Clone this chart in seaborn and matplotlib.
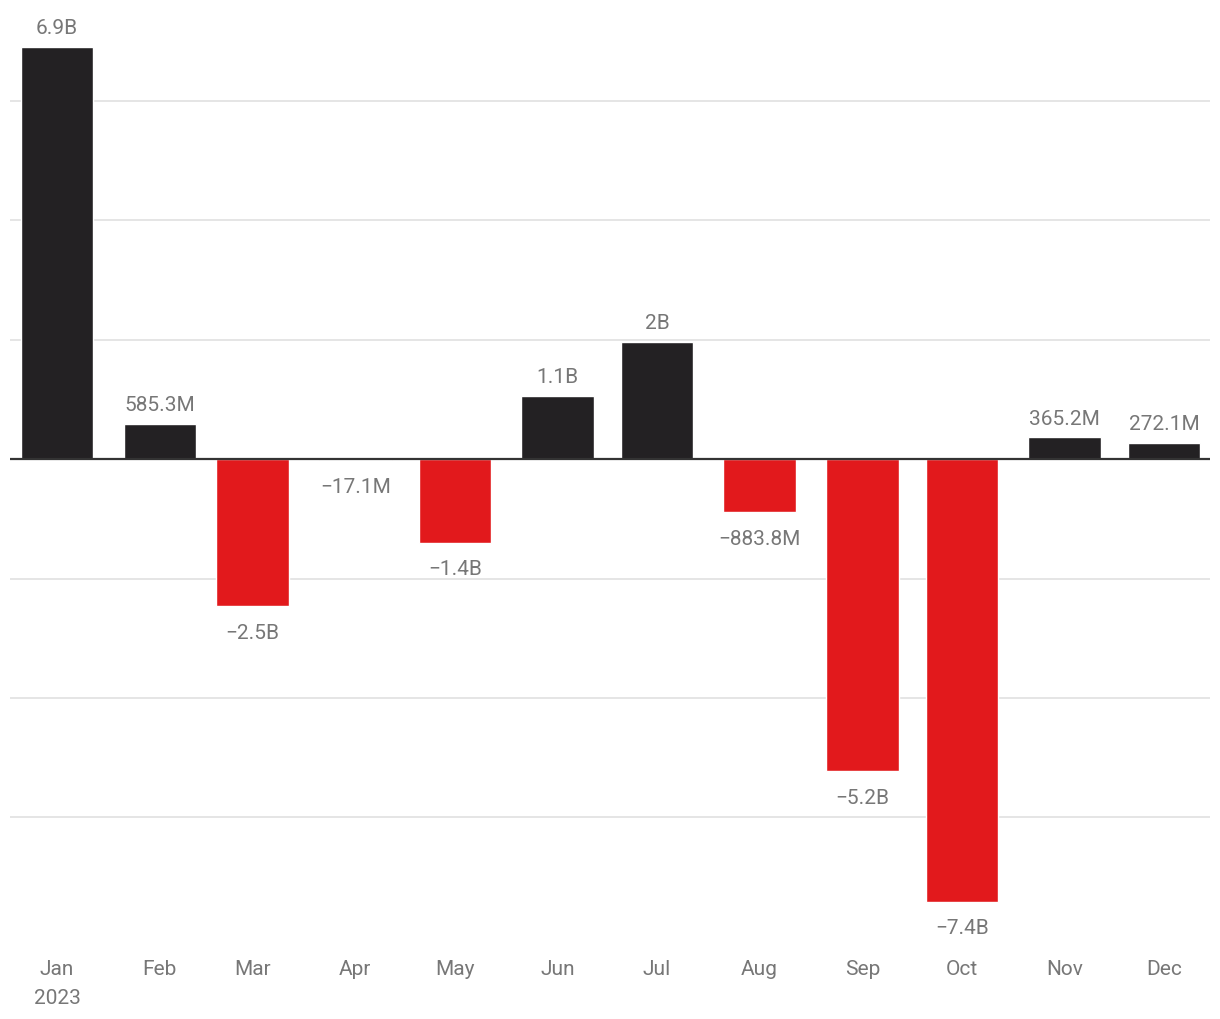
import matplotlib
matplotlib.use("Agg")
import matplotlib.pyplot as plt
import seaborn as sns
import pandas as pd

months = ["Jan\n2023", "Feb", "Mar", "Apr", "May", "Jun", "Jul", "Aug", "Sep", "Oct", "Nov", "Dec"]
dates = ["2023-01-01", "2023-02-01", "2023-03-01", "2023-04-01", "2023-05-01", "2023-06-01",
         "2023-07-01", "2023-08-01", "2023-09-01", "2023-10-01", "2023-11-01", "2023-12-01"]
values_b = [6.9, 0.5853, -2.46, -0.0171, -1.4, 1.06, 1.96, -0.8838, -5.23, -7.41, 0.3652, 0.2721]
labels = ["6.9B", "585.3M", "\u22122.5B", "\u221217.1M", "\u22121.4B", "1.1B", "2B",
          "\u2212883.8M", "\u22125.2B", "\u22127.4B", "365.2M", "272.1M"]

sns.set_theme(style="white")
plt.rcParams["font.family"] = ["Roboto", "DejaVu Sans"]

day = (pd.to_datetime(dates).dayofyear - 1).astype(float)
df = pd.DataFrame({"day": day, "value": values_b,
                   "sign": ["pos" if v >= 0 else "neg" for v in values_b]})

fig = plt.figure(figsize=(12.2, 10.2), dpi=100)
ax = fig.add_axes([10 / 1220, 1 - 932 / 1020, 1200 / 1220, 920 / 1020])

sns.barplot(data=df, x="day", y="value", hue="sign", native_scale=True,
            palette={"pos": "#232123", "neg": "#e2191c"},
            dodge=False, width=0.78, ax=ax, legend=False, saturation=1)

ax.set_xlim(-14.2, 347.9)
ax.set_ylim(-7.9, 7.5)
for g in [-6, -4, -2, 2, 4, 6]:
    ax.axhline(g, color="#e3e3e3", lw=1.3, zorder=0)
ax.axhline(0, color="#333333", lw=1.6, zorder=3)

for x, v, lab in zip(day, values_b, labels):
    if v >= 0:
        ax.annotate(lab, (x, v), xytext=(0, 7), textcoords="offset points",
                    ha="center", va="bottom", fontsize=15, color="#777777")
    else:
        ax.annotate(lab, (x, v), xytext=(0, -12), textcoords="offset points",
                    ha="center", va="top", fontsize=15, color="#777777")

ax.set_xticks(list(day))
ax.set_xticklabels(months)
ax.set_xlabel("")
ax.set_ylabel("")
ax.set_yticks([])
ax.tick_params(axis="x", length=0, pad=20, labelsize=15, labelcolor="#777777")
for lbl in ax.get_xticklabels():
    lbl.set_verticalalignment("top")
    lbl.set_linespacing(1.65)
for s in ax.spines.values():
    s.set_visible(False)

fig.savefig("out.png", dpi=100, facecolor="white")
